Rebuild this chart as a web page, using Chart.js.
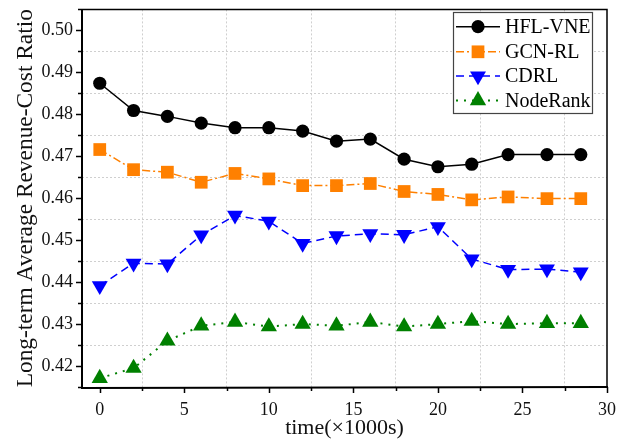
<!DOCTYPE html>
<html>
<head>
<meta charset="utf-8">
<script src="https://cdn.jsdelivr.net/npm/chart.js@4/dist/chart.umd.min.js"></script>
<style>
html,body{margin:0;padding:0;background:#fff;}
#wrap{width:639px;height:443px;position:relative;}
</style>
</head>
<body>
<div id="wrap"><canvas id="c" width="639" height="443"></canvas></div>
<script>
// ---- data ----
const timeValues = [0, 2, 4, 6, 8, 10, 12, 14, 16, 18, 20, 22, 24.15, 26.45, 28.45];
const hflVne   = [0.4874, 0.4809, 0.4795, 0.4779, 0.4768, 0.4768, 0.4760, 0.4736, 0.4741, 0.4693, 0.4675, 0.4681, 0.4704, 0.4704, 0.4704];
const gcnRl    = [0.4716, 0.4668, 0.4662, 0.4638, 0.4659, 0.4646, 0.4630, 0.4630, 0.4635, 0.4616, 0.4609, 0.4596, 0.4603, 0.4599, 0.4599];
const cdrl     = [0.4391, 0.4445, 0.4443, 0.4512, 0.4559, 0.4545, 0.4492, 0.4510, 0.4515, 0.4513, 0.4532, 0.4455, 0.4430, 0.4431, 0.4424];
const nodeRank = [0.4171, 0.4195, 0.4260, 0.4296, 0.4305, 0.4294, 0.4300, 0.4296, 0.4305, 0.4294, 0.4300, 0.4307, 0.4300, 0.4302, 0.4302];
const seriesNames = ['HFL-VNE', 'GCN-RL', 'CDRL', 'NodeRank'];
const xTicks = [0, 2.5, 5, 7.5, 10, 12.5, 15, 17.5, 20, 22.5, 25, 27.5, 30];
const yTicks = [0.415, 0.42, 0.425, 0.43, 0.435, 0.44, 0.445, 0.45, 0.455, 0.46, 0.465, 0.47, 0.475, 0.48, 0.485, 0.49, 0.495, 0.50, 0.505];
const xTitle = 'time(×1000s)';
const yTitle = 'Long-term Average Revenue-Cost Ratio';

const FONT = "'Liberation Serif', 'Times New Roman', serif";
const pts = arr => arr.map((v, i) => ({x: timeValues[i], y: v}));
const isMajorX = v => Math.abs(v / 5 - Math.round(v / 5)) < 1e-6;
const isMajorY = v => Math.abs(v * 100 - Math.round(v * 100)) < 1e-6;

const styles = [
  {color: '#000000', dash: [], point: 'circle', radius: 6.6, rotation: 0, width: 1.5},
  {color: '#FF8000', dash: [8, 3, 2, 3], point: 'rect', radius: 9, rotation: 0, width: 1.5},
  {color: '#0000FF', dash: [8, 5], point: 'triangle', radius: 9.2, rotation: 180, width: 1.5},
  {color: '#008000', dash: [2, 6], point: 'triangle', radius: 9.4, rotation: 0, width: 2}
];
const seriesData = [hflVne, gcnRl, cdrl, nodeRank];

const datasets = seriesData.map((arr, i) => ({
  label: seriesNames[i],
  data: pts(arr),
  borderColor: styles[i].color,
  backgroundColor: styles[i].color,
  borderWidth: styles[i].width,
  borderDash: styles[i].dash,
  pointStyle: styles[i].point,
  pointRadius: styles[i].radius,
  pointRotation: styles[i].rotation,
  pointBorderWidth: 0,
  pointBackgroundColor: styles[i].color,
  tension: 0,
  clip: false
}));

function drawMarker(ctx, style, x, y) {
  ctx.save();
  ctx.fillStyle = style.color;
  ctx.beginPath();
  const r = style.radius;
  if (style.point === 'circle') {
    ctx.arc(x, y, r, 0, Math.PI * 2);
  } else if (style.point === 'rect') {
    const s = Math.SQRT1_2 * r;
    ctx.rect(x - s, y - s, 2 * s, 2 * s);
  } else {
    const rot = style.rotation * Math.PI / 180;
    for (let k = 0; k < 3; k++) {
      const a = rot + k * 2 * Math.PI / 3;
      const px = x + Math.sin(a) * r, py = y - Math.cos(a) * r;
      if (k === 0) ctx.moveTo(px, py); else ctx.lineTo(px, py);
    }
    ctx.closePath();
  }
  ctx.fill();
  ctx.restore();
}

const framePlugin = {
  id: 'frame',
  afterDraw(chart) {
    const ctx = chart.ctx;
    const a = chart.chartArea;
    const xs = chart.scales.x, ys = chart.scales.y;
    ctx.save();
    // top & right border
    ctx.strokeStyle = '#000';
    ctx.lineWidth = 1.5;
    ctx.beginPath();
    ctx.moveTo(a.left, a.top); ctx.lineTo(a.right, a.top); ctx.lineTo(a.right, a.bottom);
    ctx.stroke();
    // axis lines
    ctx.lineWidth = 2;
    ctx.beginPath();
    ctx.moveTo(a.left, a.top); ctx.lineTo(a.left, a.bottom + 1); ctx.lineTo(a.right + 1, a.bottom);
    ctx.stroke();
    // tick marks
    ctx.lineWidth = 1.5;
    ctx.beginPath();
    xTicks.forEach(v => {
      const px = Math.round(xs.getPixelForValue(v)) + 0.5;
      const len = isMajorX(v) ? 6 : 4;
      ctx.moveTo(px, a.bottom); ctx.lineTo(px, a.bottom + len);
    });
    yTicks.forEach(v => {
      const py = Math.round(ys.getPixelForValue(v)) + 0.5;
      const len = isMajorY(v) ? 6 : 4;
      ctx.moveTo(a.left, py); ctx.lineTo(a.left - len, py);
    });
    ctx.stroke();
    // legend
    const lx = 453.5, ly = 12.5, lw = 139, lh = 101;
    ctx.fillStyle = '#fff';
    ctx.fillRect(lx, ly, lw, lh);
    ctx.strokeStyle = '#444';
    ctx.lineWidth = 1.2;
    ctx.strokeRect(lx, ly, lw, lh);
    const rows = [26.7, 51.8, 76, 100.5];
    seriesNames.forEach((name, i) => {
      const st = styles[i];
      const y = rows[i];
      ctx.save();
      ctx.strokeStyle = st.color;
      ctx.lineWidth = st.width;
      ctx.setLineDash(st.dash);
      ctx.beginPath();
      ctx.moveTo(456, y); ctx.lineTo(500, y);
      ctx.stroke();
      ctx.restore();
      drawMarker(ctx, st, 478, y);
      ctx.fillStyle = '#000';
      ctx.font = '20px ' + FONT;
      ctx.textAlign = 'left';
      ctx.textBaseline = 'middle';
      ctx.fillText(name, 505, y + 1);
    });
    ctx.restore();
  }
};

new Chart(document.getElementById('c'), {
  type: 'line',
  data: {datasets},
  plugins: [framePlugin],
  options: {
    responsive: false,
    animation: false,
    devicePixelRatio: 1,
    layout: {padding: {top: 7, right: 32, left: 0, bottom: 0}},
    plugins: {legend: {display: false}, tooltip: {enabled: false}, title: {display: false}},
    scales: {
      x: {
        type: 'linear',
        min: -1.05,
        max: 30,
        afterBuildTicks: s => { s.ticks = xTicks.map(v => ({value: v})); },
        afterFit: s => { s.height = 56; s.paddingLeft = 0; s.paddingRight = 0; },
        ticks: {
          autoSkip: false,
          maxRotation: 0,
          padding: 12,
          color: '#111',
          font: {family: FONT, size: 18},
          callback: v => isMajorX(v) ? String(v) : ''
        },
        grid: {
          drawTicks: false,
          lineWidth: 1,
          color: c => (c.tick && !isMajorX(c.tick.value)) ? '#cfcfcf' : 'rgba(0,0,0,0)'
        },
        border: {display: false, dash: [2, 2]},
        title: {
          display: true,
          text: xTitle,
          color: '#111',
          font: {family: FONT, size: 22},
          padding: {top: 0, bottom: 2}
        }
      },
      y: {
        type: 'linear',
        min: 0.415,
        max: 0.505,
        afterBuildTicks: s => { s.ticks = yTicks.map(v => ({value: v})); },
        afterFit: s => { s.width = 82; s.paddingTop = 0; s.paddingBottom = 0; },
        ticks: {
          autoSkip: false,
          padding: 9,
          color: '#111',
          font: {family: FONT, size: 18},
          callback: v => isMajorY(v) ? Number(v).toFixed(2) : ''
        },
        grid: {
          drawTicks: false,
          lineWidth: 1,
          color: c => (c.tick && !isMajorY(c.tick.value)) ? '#cfcfcf' : 'rgba(0,0,0,0)'
        },
        border: {display: false, dash: [2, 2]},
        title: {
          display: true,
          text: yTitle,
          color: '#111',
          font: {family: FONT, size: 23.4},
          padding: {top: 12, bottom: 0}
        }
      }
    }
  }
});
</script>
</body>
</html>
